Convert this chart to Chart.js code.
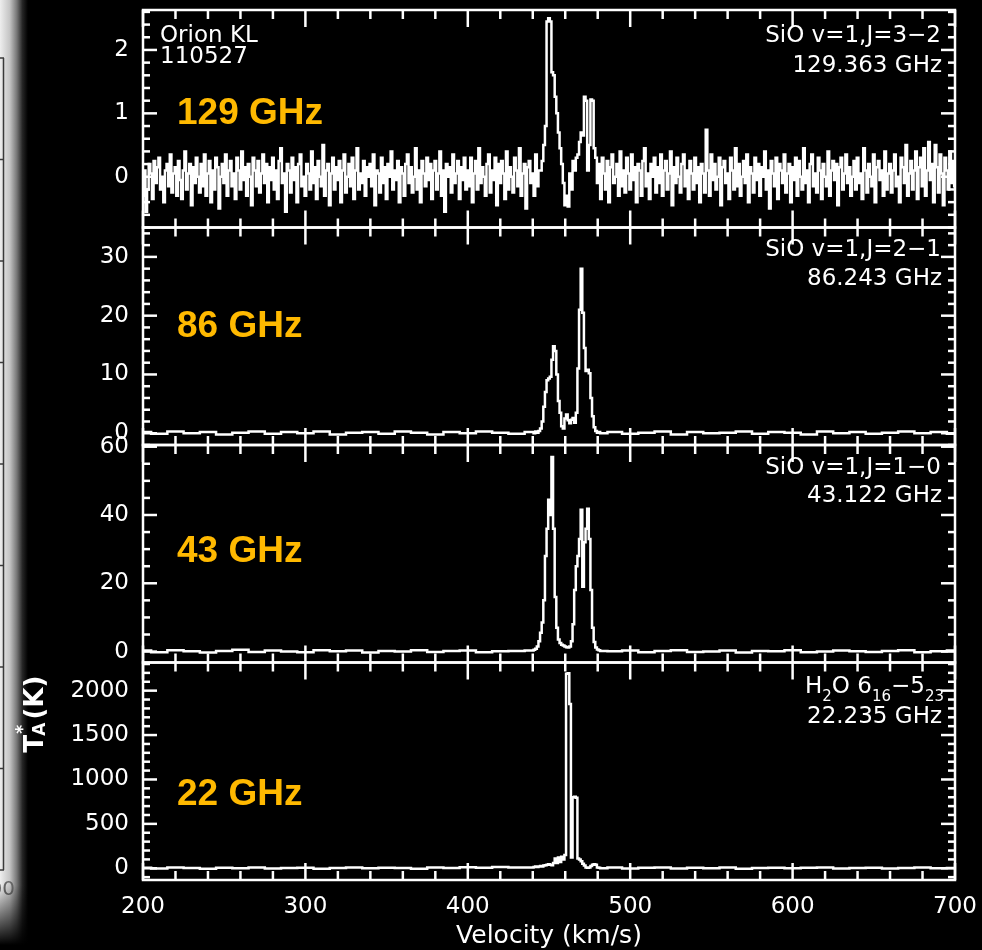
<!DOCTYPE html>
<html>
<head>
<meta charset="utf-8">
<title>Orion KL maser spectra</title>
<script src="https://cdn.jsdelivr.net/npm/chart.js@4.4.1/dist/chart.umd.min.js"></script>
<style>
  html, body { margin: 0; padding: 0; background: #000; }
  #wrap { position: relative; width: 982px; height: 950px; }
</style>
</head>
<body>
<div id="wrap"><canvas id="spectra" width="982" height="950"></canvas></div>
<script>
// SiO v=1 J=3-2 (129 GHz), 1 km/s channels
const sio32Vel = [
  200,201,202,203,204,205,206,207,208,209,210,211,212,213,214,215,216,217,218,219,
  220,221,222,223,224,225,226,227,228,229,230,231,232,233,234,235,236,237,238,239,
  240,241,242,243,244,245,246,247,248,249,250,251,252,253,254,255,256,257,258,259,
  260,261,262,263,264,265,266,267,268,269,270,271,272,273,274,275,276,277,278,279,
  280,281,282,283,284,285,286,287,288,289,290,291,292,293,294,295,296,297,298,299,
  300,301,302,303,304,305,306,307,308,309,310,311,312,313,314,315,316,317,318,319,
  320,321,322,323,324,325,326,327,328,329,330,331,332,333,334,335,336,337,338,339,
  340,341,342,343,344,345,346,347,348,349,350,351,352,353,354,355,356,357,358,359,
  360,361,362,363,364,365,366,367,368,369,370,371,372,373,374,375,376,377,378,379,
  380,381,382,383,384,385,386,387,388,389,390,391,392,393,394,395,396,397,398,399,
  400,401,402,403,404,405,406,407,408,409,410,411,412,413,414,415,416,417,418,419,
  420,421,422,423,424,425,426,427,428,429,430,431,432,433,434,435,436,437,438,439,
  440,441,442,443,444,445,446,447,448,449,450,451,452,453,454,455,456,457,458,459,
  460,461,462,463,464,465,466,467,468,469,470,471,472,473,474,475,476,477,478,479,
  480,481,482,483,484,485,486,487,488,489,490,491,492,493,494,495,496,497,498,499,
  500,501,502,503,504,505,506,507,508,509,510,511,512,513,514,515,516,517,518,519,
  520,521,522,523,524,525,526,527,528,529,530,531,532,533,534,535,536,537,538,539,
  540,541,542,543,544,545,546,547,548,549,550,551,552,553,554,555,556,557,558,559,
  560,561,562,563,564,565,566,567,568,569,570,571,572,573,574,575,576,577,578,579,
  580,581,582,583,584,585,586,587,588,589,590,591,592,593,594,595,596,597,598,599,
  600,601,602,603,604,605,606,607,608,609,610,611,612,613,614,615,616,617,618,619,
  620,621,622,623,624,625,626,627,628,629,630,631,632,633,634,635,636,637,638,639,
  640,641,642,643,644,645,646,647,648,649,650,651,652,653,654,655,656,657,658,659,
  660,661,662,663,664,665,666,667,668,669,670,671,672,673,674,675,676,677,678,679,
  680,681,682,683,684,685,686,687,688,689,690,691,692,693,694,695,696,697,698,699,
  700
];
const sio32 = [
  -0.3,0.1,-0.55,-0.2,0.2,0.05,-0.35,0.25,-0.1,0.15,0.3,-0.2,0.0,-0.4,0.1,0.2,-0.15,0.35,-0.25,0.05,
  0.15,-0.3,0.25,-0.05,-0.35,0.1,0.4,-0.2,0.05,0.2,-0.45,0.15,-0.1,0.3,0.0,-0.25,0.2,-0.15,0.35,-0.3,
  0.05,0.25,-0.4,0.1,-0.2,0.3,0.15,-0.5,0.0,0.2,-0.1,0.35,-0.3,0.1,0.25,-0.15,0.05,-0.35,0.3,0.1,
  -0.2,0.4,-0.05,0.15,-0.3,0.2,0.0,-0.45,0.3,0.1,-0.15,0.25,-0.25,0.05,0.35,-0.1,0.2,-0.4,0.15,-0.05,
  0.3,-0.2,0.1,-0.35,0.25,0.45,-0.1,0.05,-0.55,0.2,0.1,-0.25,0.3,-0.05,0.15,-0.4,0.2,0.35,-0.15,0.0,
  -0.3,0.2,0.05,-0.2,0.4,-0.1,0.15,-0.35,0.25,0.0,-0.15,0.5,-0.3,0.1,0.2,-0.45,0.05,0.3,-0.2,0.15,
  -0.05,0.25,-0.4,0.1,0.35,-0.25,0.0,0.2,-0.15,0.3,-0.35,0.1,0.45,-0.2,0.05,-0.1,0.25,-0.3,0.15,0.0,
  0.2,-0.15,0.35,-0.45,0.1,0.05,-0.25,0.3,-0.1,0.15,-0.35,0.2,0.0,0.4,-0.2,0.1,-0.05,0.25,-0.4,0.15,
  0.05,-0.3,0.2,0.35,-0.1,0.15,-0.25,0.0,0.45,-0.2,0.1,-0.4,0.25,0.05,-0.15,0.3,-0.05,0.2,-0.35,0.1,
  0.25,-0.2,0.05,0.4,-0.3,0.1,-0.55,0.2,0.0,0.15,-0.25,0.35,-0.1,0.05,0.25,-0.35,0.15,-0.05,0.3,-0.2,
  0.1,-0.15,0.3,-0.4,0.05,0.25,-0.2,0.45,-0.1,0.15,0.0,-0.3,0.2,0.35,-0.25,0.1,-0.05,0.3,-0.45,0.2,
  -0.1,0.25,0.05,-0.35,0.4,-0.2,0.15,0.0,-0.25,0.3,0.1,-0.15,0.45,-0.3,0.05,0.2,-0.5,0.15,0.25,-0.1,
  0.05,-0.3,0.35,-0.15,0.1,0.1,0.25,0.5,0.8,2.45,2.5,2.45,1.65,1.6,1.26,1.0,0.7,0.45,0.2,-0.1,
  -0.45,-0.3,-0.47,0.05,-0.2,0.25,0.1,0.3,0.35,0.55,0.7,0.65,1.26,1.2,0.1,0.5,1.22,1.2,0.45,0.3,
  -0.1,0.2,-0.35,0.3,0.05,-0.2,0.25,-0.4,0.15,0.35,-0.1,0.0,0.2,-0.3,0.4,-0.15,0.1,-0.25,0.3,0.05,
  -0.2,0.35,-0.05,0.15,-0.4,0.2,0.1,-0.3,0.25,0.45,-0.15,0.05,-0.35,0.2,0.0,0.3,-0.25,0.15,-0.1,0.35,
  -0.3,0.1,0.25,-0.2,0.05,0.4,-0.45,0.15,-0.1,0.3,0.0,-0.25,0.2,0.35,-0.15,0.1,-0.35,0.25,0.05,-0.2,
  0.3,-0.1,0.15,-0.4,0.2,0.05,-0.25,0.74,0.1,-0.3,0.35,-0.05,0.2,-0.2,0.0,0.3,-0.45,0.15,0.25,-0.1,
  0.05,-0.35,0.3,0.1,-0.2,0.45,-0.15,0.2,-0.3,0.0,0.25,-0.1,0.35,-0.4,0.15,0.05,-0.25,0.3,-0.05,0.2,
  -0.3,0.15,0.0,0.4,-0.2,0.1,-0.5,0.25,0.05,-0.15,0.3,-0.35,0.2,0.1,-0.1,0.35,-0.25,0.05,0.2,-0.4,
  0.15,-0.05,0.3,-0.3,0.25,0.0,-0.2,0.45,-0.1,0.1,-0.4,0.2,0.35,-0.15,0.05,-0.25,0.3,0.1,-0.35,0.2,
  0.0,-0.15,0.4,-0.3,0.1,0.25,-0.05,0.2,-0.45,0.15,0.3,-0.2,0.05,0.35,-0.1,0.15,-0.3,0.0,0.25,-0.2,
  0.3,-0.1,0.05,-0.35,0.45,0.1,-0.25,0.2,0.0,-0.15,0.35,-0.4,0.15,0.25,-0.05,0.1,-0.3,0.4,-0.2,0.05,
  0.2,-0.25,0.1,0.35,-0.15,0.0,-0.4,0.3,0.15,-0.1,0.5,-0.3,0.05,0.25,-0.2,0.1,0.4,-0.35,0.15,0.3,
  -0.15,0.45,-0.3,0.1,0.55,-0.05,0.2,-0.4,0.5,0.15,-0.25,0.35,0.05,-0.45,0.3,0.1,-0.2,0.4,-0.1,0.25,
  -0.15
];

// 86, 43 and 22 GHz share one velocity list: coarse baseline, 1 km/s across the lines
const lineVel = [
  200,210,220,230,240,250,260,270,280,290,300,310,320,330,340,350,360,370,380,390,400,410,420,430,
  440,441,442,443,444,445,446,447,448,449,
  450,451,452,453,454,455,456,457,458,459,
  460,461,462,463,464,465,466,467,468,469,
  470,471,472,473,474,475,476,477,478,479,
  480,481,482,
  490,500,510,520,530,540,550,560,570,580,590,600,610,620,630,640,650,660,670,680,690,700
];
const sio21 = [
  0.2,-0.1,0.3,0.0,0.2,-0.2,0.1,0.3,-0.1,0.2,0.0,0.3,-0.2,0.1,0.2,-0.1,0.3,0.1,-0.2,0.2,0.0,0.3,0.1,-0.1,
  0.2,0.0,0.3,0.1,0.4,0.8,2.0,4.5,7.0,9.0,
  9.3,9.6,12.5,14.8,14.0,10.0,5.5,3.5,1.2,0.8,
  2.5,3.2,2.2,1.7,2.3,2.6,1.8,3.5,11.0,21.0,
  28.0,20.5,14.5,10.6,10.8,10.2,6.0,2.9,1.0,0.4,
  0.1,0.2,0.0,
  0.2,-0.1,0.1,0.3,-0.2,0.2,0.0,0.1,0.3,-0.1,0.2,0.1,-0.2,0.3,0.0,0.2,-0.1,0.1,0.3,0.0,0.2,-0.1
];
const sio10 = [
  0.3,-0.2,0.4,0.1,-0.3,0.2,0.5,-0.1,0.3,0.0,-0.2,0.4,0.1,0.3,-0.3,0.2,0.0,0.4,-0.1,0.2,0.3,-0.2,0.1,0.2,
  0.3,0.5,0.8,1.5,3.0,5.5,8.5,15.0,28.0,36.0,
  44.5,40.0,57.0,36.0,16.0,7.0,3.5,2.5,2.0,1.8,
  1.5,1.3,1.2,1.5,3.0,8.0,18.0,25.0,28.0,33.0,
  41.5,19.0,32.0,36.0,41.8,33.0,18.0,7.0,2.8,1.2,
  0.6,0.4,0.2,
  0.1,0.3,-0.2,0.2,0.4,-0.1,0.0,0.3,-0.3,0.2,0.1,0.4,-0.2,0.0,0.3,0.1,-0.1,0.2,0.4,-0.2,0.1,0.3
];
const h2o = [
  5,-3,8,2,-5,6,0,10,-2,4,7,-4,3,9,-1,5,2,-6,8,3,12,6,15,8,
  10,15,20,15,20,25,20,30,35,40,
  45,40,35,60,110,60,120,70,130,100,
  150,2190,2195,1850,120,800,805,795,110,100,
  80,50,30,10,5,10,25,40,45,40,
  10,5,0,
  8,-3,5,10,-2,6,0,8,-4,3,7,-1,5,9,-3,2,6,-2,4,8,0,3
];

const velTicks = [200, 300, 400, 500, 600, 700];
const sio32Ticks = [0, 1, 2];
const sio21Ticks = [0, 10, 20, 30];
const sio10Ticks = [0, 20, 40, 60];
const h2oTicks = [0, 500, 1000, 1500, 2000];

const bandNames = ['129 GHz', '86 GHz', '43 GHz', '22 GHz'];
const lineNames = ['SiO v=1,J=3\u22122', 'SiO v=1,J=2\u22121', 'SiO v=1,J=1\u22120', 'H2O 6(16)\u22125(23)'];
const restFreqs = ['129.363 GHz', '86.243 GHz', '43.122 GHz', '22.235 GHz'];

const panels = [
  { id: 'y1', vel: sio32Vel, vals: sio32, ticks: sio32Ticks, min: -0.8, max: 2.63, minor: 0.2, major: 1, base: [41.5, 71.5], band: 114 },
  { id: 'y2', vel: lineVel, vals: sio21, ticks: sio21Ticks, min: -2, max: 35, minor: 2, major: 10, base: [256, 285], band: 327 },
  { id: 'y3', vel: lineVel, vals: sio10, ticks: sio10Ticks, min: -3.2, max: 60.5, minor: 5, major: 20, base: [474, 502], band: 552 },
  { id: 'y4', vel: lineVel, vals: h2o, ticks: h2oTicks, min: -132, max: 2317, minor: 100, major: 500, base: [693, 723], band: 795 }
];

const FONT = '"DejaVu Sans", sans-serif';
const tickFont = { family: FONT, size: 23 };
const orange = '#ffb900';

function yScale(p, i) {
  return {
    type: 'linear',
    position: 'left',
    stack: 'spectra',
    stackWeight: 1,
    weight: 4 - i,
    min: p.min,
    max: p.max,
    grid: { display: false, drawTicks: false },
    border: { display: false },
    ticks: { color: '#fff', font: tickFont, padding: 14, autoSkip: false, callback: (v) => String(v) },
    afterBuildTicks: (s) => { s.ticks = p.ticks.map((v) => ({ value: v })); },
    afterFit: (s) => { s.width = 143; s.paddingTop = 0; s.paddingBottom = 0; }
  };
}

function line(ctx, x0, y0, x1, y1) {
  ctx.beginPath();
  ctx.moveTo(x0, y0);
  ctx.lineTo(x1, y1);
  ctx.stroke();
}

// text with subscripts, drawn right-aligned ending at xr
function drawPieces(ctx, pieces, xr, y) {
  let w = 0;
  pieces.forEach((p) => { ctx.font = p[1]; w += ctx.measureText(p[0]).width; });
  let x = xr - w;
  ctx.textAlign = 'left';
  pieces.forEach((p) => {
    ctx.font = p[1];
    ctx.fillText(p[0], x, y + p[2]);
    x += ctx.measureText(p[0]).width;
  });
}

const framePlugin = {
  id: 'framePlugin',
  beforeDraw(chart) {
    const ctx = chart.ctx;
    ctx.save();
    ctx.fillStyle = '#000';
    ctx.fillRect(0, 0, chart.width, chart.height);
    // edge of the neighbouring slide page
    const g = ctx.createLinearGradient(0, 0, 28, 0);
    g.addColorStop(0, '#eeeeee');
    g.addColorStop(0.35, '#c4c4c4');
    g.addColorStop(0.6, '#777777');
    g.addColorStop(0.8, '#262626');
    g.addColorStop(1, '#000000');
    ctx.fillStyle = g;
    ctx.fillRect(0, 0, 28, chart.height);
    ctx.strokeStyle = '#3a3a3a';
    ctx.lineWidth = 1.5;
    line(ctx, 0, 58, 4, 58);
    line(ctx, 3.5, 58, 3.5, 870);
    line(ctx, 0, 870, 4, 870);
    for (let k = 1; k < 8; k++) line(ctx, 0, 58 + 101.5 * k, 3.5, 58 + 101.5 * k);
    ctx.fillStyle = '#666';
    ctx.font = '20px ' + FONT;
    ctx.textAlign = 'right';
    ctx.textBaseline = 'middle';
    ctx.fillText('00', 15, 890);
    const f = ctx.createLinearGradient(0, 885, 0, 945);
    f.addColorStop(0, 'rgba(0,0,0,0)');
    f.addColorStop(1, '#000');
    ctx.fillStyle = f;
    ctx.fillRect(0, 885, 30, 65);
    ctx.restore();
  },
  afterDatasetsDraw(chart) {
    const { ctx, chartArea: a, scales } = chart;
    const xs = scales.x;
    ctx.save();
    ctx.strokeStyle = '#fff';
    ctx.lineWidth = 2.5;
    panels.forEach((p) => {
      const s = scales[p.id];
      const top = s.top;
      const bot = s.bottom;
      ctx.strokeRect(a.left, top, a.right - a.left, bot - top);
      for (let v = 200; v <= 700; v += 20) {
        const x = xs.getPixelForValue(v);
        const len = v % 100 === 0 ? 17 : 9;
        line(ctx, x, top, x, top + len);
        line(ctx, x, bot, x, bot - len);
      }
      const k0 = Math.ceil(p.min / p.minor);
      const k1 = Math.floor(p.max / p.minor);
      for (let k = k0; k <= k1; k++) {
        const v = k * p.minor;
        const r = v / p.major;
        const len = Math.abs(r - Math.round(r)) < 1e-6 ? 14 : 7;
        const y = s.getPixelForValue(v);
        line(ctx, a.left, y, a.left + len, y);
        line(ctx, a.right, y, a.right - len, y);
      }
    });
    ctx.restore();
  },
  afterDraw(chart) {
    const ctx = chart.ctx;
    const big = '23px ' + FONT;
    const sub = '15px ' + FONT;
    ctx.save();
    ctx.fillStyle = '#fff';
    ctx.textBaseline = 'alphabetic';
    ctx.font = big;
    ctx.textAlign = 'left';
    ctx.fillText('Orion KL', 160, 41.5);
    ctx.fillText('110527', 160, 63);
    panels.forEach((p, i) => {
      const [b1, b2] = p.base;
      ctx.font = big;
      ctx.textAlign = 'right';
      if (i < 3) {
        ctx.fillText(lineNames[i], 941, b1);
      } else {
        drawPieces(ctx, [['H', big, 0], ['2', sub, 8], ['O 6', big, 0], ['16', sub, 8], ['\u22125', big, 0], ['23', sub, 8]], 944, b1);
      }
      ctx.font = big;
      ctx.textAlign = 'right';
      ctx.fillText(restFreqs[i], 942, b2);
      // band label
      ctx.fillStyle = orange;
      ctx.font = 'bold 37px "Liberation Sans", Arial, sans-serif';
      ctx.textAlign = 'left';
      ctx.textBaseline = 'middle';
      ctx.fillText(bandNames[i], 177, p.band);
      ctx.fillStyle = '#fff';
      ctx.textBaseline = 'alphabetic';
    });
    // x title
    ctx.font = '25px ' + FONT;
    ctx.textAlign = 'center';
    ctx.textBaseline = 'middle';
    ctx.fillText('Velocity (km/s)', 549, 936);
    // y title T_A^*(K)
    ctx.translate(33, 714);
    ctx.rotate(-Math.PI / 2);
    const yb = 'bold 26px ' + FONT;
    const ys = 'bold 17px ' + FONT;
    ctx.font = yb;
    const wT = ctx.measureText('T').width;
    const wK = ctx.measureText('(K)').width;
    ctx.font = ys;
    const wA = ctx.measureText('A').width;
    let x = -(wT + wA + 2 + wK) / 2;
    ctx.textAlign = 'left';
    ctx.textBaseline = 'alphabetic';
    ctx.font = yb;
    ctx.fillText('T', x, 10);
    x += wT - 1;
    ctx.font = ys;
    ctx.fillText('A', x, 12);
    ctx.fillText('*', x + 2, -5);
    x += wA + 3;
    ctx.font = yb;
    ctx.fillText('(K)', x, 10);
    ctx.restore();
  }
};

const scales = {
  x: {
    type: 'linear',
    position: 'bottom',
    min: 200,
    max: 700,
    grid: { display: false, drawTicks: false },
    border: { display: false },
    ticks: { color: '#fff', font: tickFont, padding: 13, maxRotation: 0, autoSkip: false, callback: (v) => String(v) },
    afterBuildTicks: (s) => { s.ticks = velTicks.map((v) => ({ value: v })); },
    afterFit: (s) => { s.height = 70; s.paddingLeft = 0; s.paddingRight = 0; }
  }
};
panels.forEach((p, i) => { scales[p.id] = yScale(p, i); });

new Chart(document.getElementById('spectra'), {
  type: 'line',
  data: {
    datasets: panels.map((p) => ({
      label: p.id,
      yAxisID: p.id,
      xAxisID: 'x',
      data: p.vel.map((v, i) => ({ x: v, y: p.vals[i] })),
      borderColor: '#fff',
      borderWidth: 2.5,
      pointRadius: 0,
      stepped: 'middle',
      fill: false
    }))
  },
  options: {
    responsive: false,
    animation: false,
    devicePixelRatio: 1,
    layout: { padding: { left: 0, top: 10, right: 27, bottom: 0 } },
    plugins: { legend: { display: false }, tooltip: { enabled: false } },
    scales: scales
  },
  plugins: [framePlugin]
});
</script>
</body>
</html>
